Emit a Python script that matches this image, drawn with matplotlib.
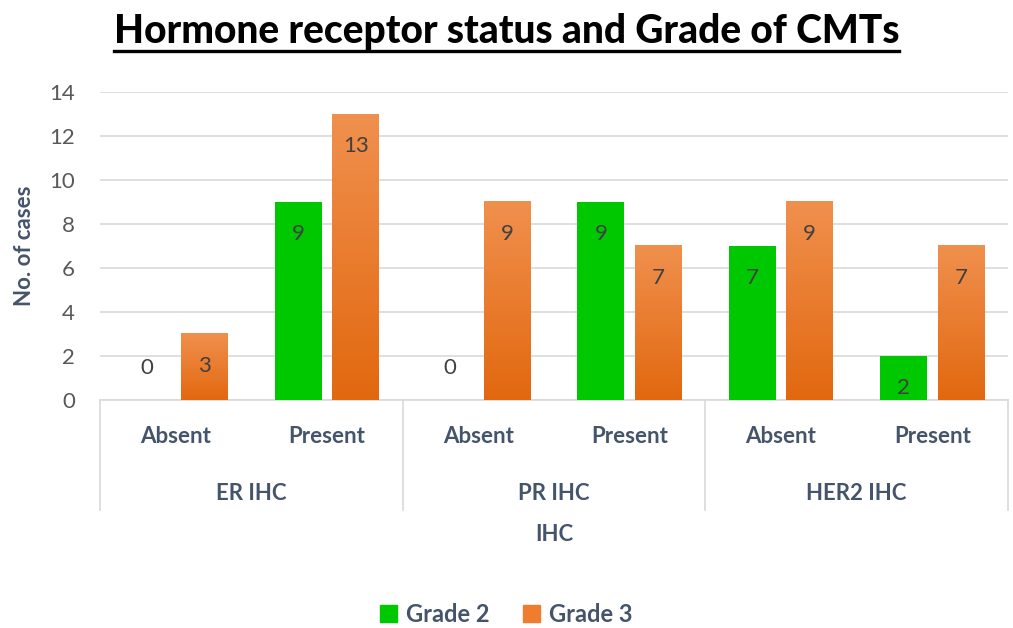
import numpy as np
import matplotlib
matplotlib.use("Agg")
import matplotlib.pyplot as plt
from matplotlib.patches import Patch
from matplotlib.lines import Line2D
from matplotlib.colors import LinearSegmentedColormap
import matplotlib.transforms as mtransforms

plt.rcParams['font.family'] = ['Lato', 'DejaVu Sans']

# data
groups = ["ER IHC", "PR IHC", "HER2 IHC"]
status = ["Absent", "Present"]
grade2 = [0, 9, 0, 9, 7, 2]
grade3 = [3, 13, 9, 7, 9, 7]
yticks = [0, 2, 4, 6, 8, 10, 12, 14]

GREEN = "#00C800"
ORANGE_TOP = "#F0904E"
ORANGE_BOT = "#E2680F"
TXT = "#44546A"

fig = plt.figure(figsize=(10.13, 6.28), dpi=100)
ax = fig.add_axes([100 / 1013, 228 / 628, 908 / 1013, 308 / 628])

x = np.arange(len(grade2))
w, off = 0.31, 0.19

ax.bar(x - off, grade2, w, color=GREEN, zorder=3)
bars3 = ax.bar(x + off, grade3, w, color=ORANGE_BOT, zorder=3)

# gradient fill for grade 3 bars
cmap = LinearSegmentedColormap.from_list("og", [ORANGE_BOT, ORANGE_TOP])
grad = np.linspace(0, 1, 256).reshape(-1, 1)
for b in bars3:
    x0, h = b.get_x(), b.get_height()
    ax.imshow(grad, cmap=cmap, origin="lower", aspect="auto",
              extent=[x0, x0 + b.get_width(), 0, h], zorder=3.5)

# data labels, inside end (zeros sit above the axis)
for xs, vals in [(x - off, grade2), (x + off, grade3)]:
    for xi, v in zip(xs, vals):
        dy = 32 if v == 0 else -32
        ax.annotate(str(v), (xi, v), xytext=(0, dy), textcoords="offset pixels",
                    ha="center", va="center", fontsize=16, color="#404040", zorder=5)

ax.set_xlim(-0.5, 5.5)
ax.set_ylim(0, 14)
ax.set_yticks(yticks)
ax.set_xticks([])
ax.tick_params(axis="y", length=0, labelsize=16, labelcolor="#595959", pad=18)
ax.grid(axis="y", color="#D9D9D9", lw=1.2, zorder=0)
for s in ["top", "right", "left"]:
    ax.spines[s].set_visible(False)
ax.spines["bottom"].set_color("#D9D9D9")
ax.spines["bottom"].set_linewidth(1.2)
ax.set_ylabel("No. of cases", fontsize=16, fontweight="bold", color=TXT)
ax.yaxis.set_label_coords(-65 / 908, 0.5)

# multi-level category axis
trans = mtransforms.blended_transform_factory(ax.transData, ax.transAxes)
for sep in [-0.5, 1.5, 3.5, 5.5]:
    ax.add_line(Line2D([sep, sep], [0, -0.357], transform=trans, color="#D9D9D9",
                       lw=1.2, clip_on=False))
for i in range(6):
    ax.text(i, -0.12, status[i % 2], transform=trans, ha="center", va="center",
            fontsize=16, fontweight="bold", color=TXT)
for g, name in enumerate(groups):
    ax.text(2 * g + 0.5, -0.302, name, transform=trans, ha="center", va="center",
            fontsize=16, fontweight="bold", color=TXT)
ax.text(2.5, -0.438, "IHC", transform=trans, ha="center", va="center",
        fontsize=16, fontweight="bold", color=TXT)

# title with underline
title = fig.text(0.5, 1 - 31 / 628, "Hormone receptor status and Grade of CMTs",
                 ha="center", va="center", fontsize=28, fontweight="black", color="black")
fig.canvas.draw()
bb = title.get_window_extent().transformed(fig.transFigure.inverted())
fig.add_artist(Line2D([bb.x0, bb.x1], [bb.y0 - 0.003, bb.y0 - 0.003],
                      transform=fig.transFigure, color="black", lw=2.4))

handles = [Patch(color=GREEN, label="Grade 2"), Patch(color="#EE7D2F", label="Grade 3")]
leg = fig.legend(handles=handles, loc="center", bbox_to_anchor=(0.5, 14 / 628), ncol=2,
                 frameon=False, fontsize=17, handlelength=0.7, handleheight=0.7,
                 handletextpad=0.4, columnspacing=1.4)
for t in leg.get_texts():
    t.set_color(TXT)
    t.set_fontweight("bold")

fig.savefig("out.png", dpi=100)
